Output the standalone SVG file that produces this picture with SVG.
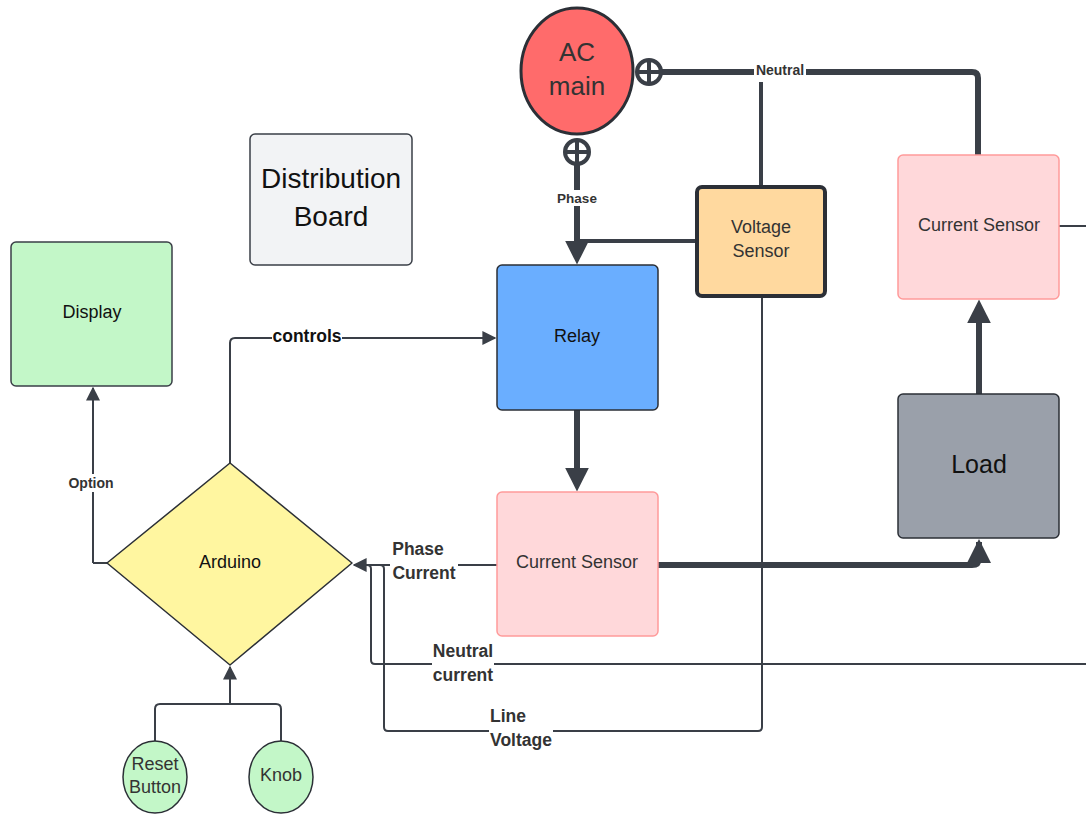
<svg xmlns="http://www.w3.org/2000/svg" width="1086" height="814" viewBox="0 0 1086 814">
<style>
text{font-family:"Liberation Sans",Arial,sans-serif;fill:#333;text-anchor:middle;dominant-baseline:central}
.lbl{font-weight:bold;fill:#333}
.thin{fill:none;stroke:#3a3f47;stroke-width:2;stroke-linejoin:round}
.thick{fill:none;stroke:#3a3f47;stroke-width:6;stroke-linejoin:round}
.mid{fill:none;stroke:#3a3f47;stroke-width:4}
.bg{fill:#fff}
</style>
<defs>
<marker id="ah" viewBox="0 0 10 10" refX="9" refY="5" markerWidth="14" markerHeight="14" markerUnits="userSpaceOnUse" orient="auto"><path d="M0,0L10,5L0,10z" fill="#3a3f47"/></marker>
<marker id="ahb" viewBox="0 0 10 10" refX="1" refY="5" markerWidth="24" markerHeight="24" markerUnits="userSpaceOnUse" orient="auto"><path d="M0,0L10,5L0,10z" fill="#3a3f47"/></marker>
</defs>
<rect width="1086" height="814" fill="#fff"/>
<g id="connectors">
<path class="thick" d="M660,72H972Q978,72 978,78V155"/>
<path class="mid" d="M761,82V187"/>
<path class="thick" d="M577,164V243" marker-end="url(#ahb)"/>
<path class="mid" d="M577,241H697"/>
<path class="thick" d="M577,410V470" marker-end="url(#ahb)"/>
<path class="thick" d="M658,565H972Q979,565 979,558V542"/>
<path d="M967,563L979,539L991,563z" fill="#3a3f47"/>
<path class="thick" d="M979,394V321" marker-end="url(#ahb)"/>
<path class="thin" d="M1059,226H1086"/>
<path class="thin" d="M762,296V727Q762,731 758,731H388Q384,731 384,727V569Q384,565 380,565"/>
<path class="thin" d="M1086,664H375Q371,664 371,660V569Q371,565 367,565"/>
<path class="thin" d="M497,565H354" marker-end="url(#ah)"/>
<path class="thin" d="M93,563H107"/>
<path class="thin" d="M93,563V388" marker-end="url(#ah)"/>
<path class="thin" d="M230,463V343Q230,338 235,338H495" marker-end="url(#ah)"/>
<path class="thin" d="M155,742V709Q155,704 160,704H276Q281,704 281,709V742"/>
<path class="thin" d="M230,704V667" marker-end="url(#ah)"/>
<rect class="bg" x="754" y="62" width="52" height="16"/>
<text class="lbl" x="780" y="70" font-size="14">Neutral</text>
<rect class="bg" x="555" y="190" width="44" height="16"/>
<text class="lbl" x="577" y="198" font-size="13.5">Phase</text>
<rect class="bg" x="272" y="327" width="70" height="20"/>
<text class="lbl" x="307" y="336" font-size="17.5" style="fill:#111">controls</text>
<rect class="bg" x="66" y="474" width="50" height="18"/>
<text class="lbl" x="91" y="483" font-size="14">Option</text>
<rect class="bg" x="390" y="540" width="68" height="44"/>
<text class="lbl" x="418" y="549" font-size="17.5">Phase</text>
<text class="lbl" x="424" y="573" font-size="17.5">Current</text>
<rect class="bg" x="432" y="640" width="62" height="46"/>
<text class="lbl" x="463" y="651" font-size="17.5">Neutral</text>
<text class="lbl" x="463" y="675" font-size="17.5">current</text>
<rect class="bg" x="489" y="706" width="64" height="46"/>
<text class="lbl" x="508" y="716" font-size="17.5">Line</text>
<text class="lbl" x="521" y="740" font-size="17.5">Voltage</text>
</g>
<g id="ac-main">
<ellipse cx="577" cy="71" rx="56" ry="63" fill="#ff6b6b" stroke="#2b2f36" stroke-width="3"/>
<text x="577" y="52" font-size="26">AC</text>
<text x="577" y="86" font-size="26">main</text>
<circle cx="649" cy="72" r="12" fill="#fff" stroke="#3a3f47" stroke-width="4"/>
<path d="M637,72H661M649,60V84" stroke="#3a3f47" stroke-width="4"/>
<circle cx="577" cy="152" r="12" fill="#fff" stroke="#3a3f47" stroke-width="4"/>
<path d="M565,152H589M577,140V164" stroke="#3a3f47" stroke-width="4"/>
</g>
<g id="distribution-board">
<rect x="250" y="134" width="162" height="131" rx="5" fill="#f2f3f5" stroke="#3a3f47" stroke-width="1.5"/>
<text x="331" y="178" font-size="28" style="fill:#111">Distribution</text>
<text x="331" y="216" font-size="28" style="fill:#111">Board</text>
</g>
<g id="display">
<rect x="11" y="242" width="161" height="144" rx="5" fill="#c3f7c8" stroke="#3a3f47" stroke-width="1.5"/>
<text x="92" y="312" font-size="18" style="fill:#111">Display</text>
</g>
<g id="voltage-sensor">
<rect x="697" y="187" width="128" height="109" rx="5" fill="#ffd99f" stroke="#2b2f36" stroke-width="4"/>
<text x="761" y="227" font-size="18">Voltage</text>
<text x="761" y="251" font-size="18">Sensor</text>
</g>
<g id="relay">
<rect x="497" y="265" width="161" height="145" rx="5" fill="#6aaeff" stroke="#2b2f36" stroke-width="1.5"/>
<text x="577" y="336" font-size="18" style="fill:#111">Relay</text>
</g>
<g id="current-sensor-1">
<rect x="497" y="492" width="161" height="144" rx="5" fill="#ffd8da" stroke="#ff9a9a" stroke-width="1.5"/>
<text x="577" y="562" font-size="18">Current Sensor</text>
</g>
<g id="current-sensor-2">
<rect x="898" y="155" width="161" height="144" rx="5" fill="#ffd8da" stroke="#ff9a9a" stroke-width="1.5"/>
<text x="979" y="225" font-size="18">Current Sensor</text>
</g>
<g id="load">
<rect x="898" y="394" width="161" height="144" rx="5" fill="#9aa0aa" stroke="#2b2f36" stroke-width="1.5"/>
<text x="979" y="464" font-size="25" style="fill:#111">Load</text>
</g>
<g id="arduino">
<path d="M230,463L352,563L230,665L107,563z" fill="#fff6a0" stroke="#2b2f36" stroke-width="1.5" stroke-linejoin="round"/>
<text x="230" y="562" font-size="18" style="fill:#111">Arduino</text>
</g>
<g id="reset-button">
<ellipse cx="155" cy="777" rx="32" ry="36" fill="#c3f7c8" stroke="#2b2f36" stroke-width="1.5"/>
<text x="155" y="764" font-size="18">Reset</text>
<text x="155" y="787" font-size="18">Button</text>
</g>
<g id="knob">
<ellipse cx="281" cy="777" rx="32" ry="36" fill="#c3f7c8" stroke="#2b2f36" stroke-width="1.5"/>
<text x="281" y="775" font-size="18">Knob</text>
</g>
</svg>
